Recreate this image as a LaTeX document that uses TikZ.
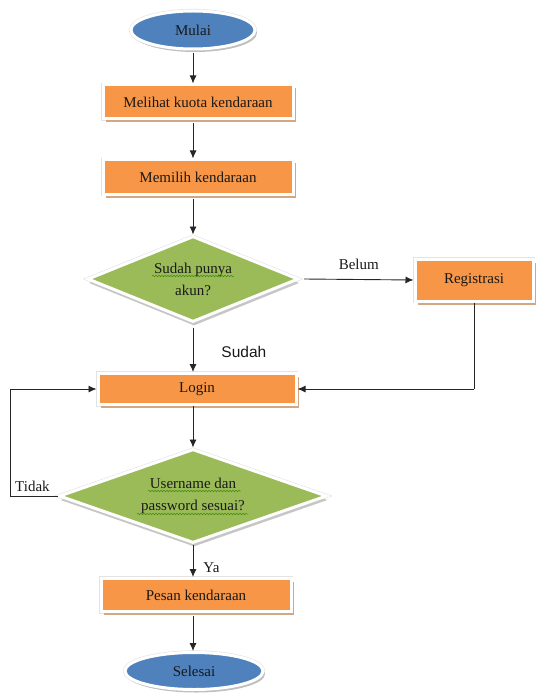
\documentclass[tikz,border=0pt]{standalone}
\usepackage{fontspec}
\setmainfont{Liberation Serif}
\newfontfamily\labelsans{Liberation Sans}
\usetikzlibrary{shapes.geometric,arrows.meta,shadows,decorations.pathmorphing}
\definecolor{boxorange}{HTML}{F79646}
\definecolor{boxshadow}{HTML}{D2A783}
\definecolor{dgreen}{HTML}{9BBB59}
\definecolor{eblue}{HTML}{4F81BD}
\definecolor{sqgreen}{HTML}{3E8E0A}
\begin{document}
\begin{tikzpicture}[x=1pt,y=-1pt,
  font=\fontsize{15}{22}\selectfont,
  frame/.style={preaction={draw=gray!22,line width=4.2pt},draw=white,line width=3pt},
  procbox/.style={rectangle,fill=boxorange,frame,
     drop shadow={shadow xshift=2.5pt,shadow yshift=-3.5pt,fill=boxshadow,opacity=1},
     text=black!90,inner sep=2pt},
  decision/.style={diamond,fill=dgreen,frame,aspect=2.4,inner sep=0pt,align=center,
     drop shadow={shadow xshift=1pt,shadow yshift=-4pt,fill=gray!45,opacity=1},
     text=black!90},
  term/.style={ellipse,fill=eblue,frame,
     drop shadow={shadow xshift=2pt,shadow yshift=-3pt,fill=gray!50,opacity=1},
     text=black!90},
  arr/.style={draw=black!85,line width=0.9pt,-{Latex[length=8pt,width=7pt]}},
  ln/.style={draw=black!85,line width=0.9pt},
  squig/.style={draw=sqgreen,line width=0.5pt,decorate,decoration={snake,amplitude=0.8pt,segment length=3pt}},
  lbl/.style={text=black!90,inner sep=0pt}]
\useasboundingbox (0,0) rectangle (539,695);

\node[term,minimum width=124pt,minimum height=38pt] (mulai) at (193,30) {Mulai};
\node[procbox,minimum width=190pt,minimum height=34pt] (melihat) at (198,102) {Melihat kuota kendaraan};
\node[procbox,minimum width=190pt,minimum height=34pt] (memilih) at (198,177) {Memilih kendaraan};
\node[decision,minimum width=211pt,minimum height=86pt] (d1) at (193,279) {Sudah punya\\akun?};
\node[procbox,minimum width=118pt,minimum height=42pt] (reg) at (474,280) {Registrasi};
\node[procbox,minimum width=198pt,minimum height=31pt] (login) at (197,389) {Login};
\node[decision,minimum width=268pt,minimum height=94pt] (d2) at (193,496) {Username dan\\password sesuai?};
\node[procbox,minimum width=190pt,minimum height=33pt] (pesan) at (196,595) {Pesan kendaraan};
\node[term,minimum width=138pt,minimum height=37pt] (selesai) at (194,671) {Selesai};

% spelling squiggles
\draw[squig] ([xshift=-41pt,yshift=3pt]d1.center) -- ([xshift=41pt,yshift=3pt]d1.center);
\draw[squig] ([xshift=-45pt,yshift=5pt]d2.center) -- ([xshift=48pt,yshift=5pt]d2.center);
\draw[squig] ([xshift=-56pt,yshift=-18pt]d2.center) -- ([xshift=55pt,yshift=-18pt]d2.center);

\coordinate (regturn) at (reg.south |- login.east);
\coordinate (tl) at (10,0);
\coordinate (tidakbot) at (tl |- d2.west);
\coordinate (tidaktop) at (tl |- login.west);

\draw[arr] ([yshift=-3pt]mulai.south) -- (mulai.south |- melihat.north);
\draw[arr] ([yshift=-3pt]melihat.south -| mulai.south) -- (mulai.south |- memilih.north);
\draw[arr] ([yshift=-3pt]memilih.south -| mulai.south) -- (d1.north);
\draw[arr] ([xshift=4pt]d1.east) -- node[lbl,above=9pt] {Belum} (reg.west);
\draw[arr] ([yshift=-4pt]d1.south) -- node[lbl,right=28pt,font=\labelsans\fontsize{15.5}{17}\selectfont,pos=0.55] {Sudah} (d1.south |- login.north);
\draw[ln] (reg.south) -- (regturn);
\draw[arr] (regturn) -- (login.east);
\draw[arr] (login.south -| d2.north) -- (d2.north);
\draw[ln] (d2.west) -- (tidakbot) -- (tidaktop);
\draw[arr] (tidaktop) -- (login.west);
\node[lbl,anchor=south west] (tidak) at ([xshift=5pt,yshift=4pt]tidakbot) {Tidak};
\draw[arr] (d2.south) -- node[lbl,right=10pt,pos=0.7] {Ya} (d2.south |- pesan.north);
\draw[arr] ([yshift=-3pt]pesan.south -| d2.south) -- (d2.south |- selesai.north);
\end{tikzpicture}
\end{document}
